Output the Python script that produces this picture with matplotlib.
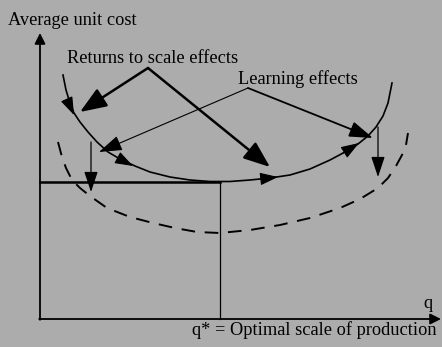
import numpy as np
import matplotlib
matplotlib.use("Agg")
import matplotlib.pyplot as plt

# diagram drawn in image-like coordinates (x right, y down)
cost_x = [63, 66, 70, 74, 80, 88, 97, 108, 120, 135, 150, 170, 190, 210, 230,
          250, 270, 290, 310, 330, 345, 358, 368, 376, 383, 388, 390, 392]
cost_y = [75, 90, 103, 113, 122, 132, 142, 152, 159, 166, 172, 177, 180, 181.5,
          181.5, 180, 178, 175, 169, 160, 152, 144, 136, 127, 116, 103, 93, 83]

learn_x = [58, 62, 66, 72, 80, 90, 107, 130, 153, 175, 197, 220, 250, 280,
           310, 340, 360, 378, 388, 396, 402, 406, 408]
learn_y = [142, 157, 168, 180, 188, 196, 208, 217, 223, 228, 232, 233, 230,
           225, 218, 208, 199, 188, 178, 166, 155, 145, 133]

q_star = 220
min_cost = 182
axis_origin = (40, 319)

# arrows along the curve: (tail, tip)
curve_arrows = [((69, 104), (74, 115)), ((118, 158), (133, 166)),
                ((260, 179), (278, 177)), ((343, 153), (359, 143))]
returns_from = (148, 68)
returns_to = [(80, 112), (270, 167)]
learning_from = (248, 88)
learning_to = [(99, 152), (373, 138)]
drops = [((91, 142), (91, 192)), ((378, 127), (378, 177))]

fig = plt.figure(figsize=(4.42, 3.47), dpi=100)
fig.patch.set_facecolor("#acacac")
ax = fig.add_axes([0, 0, 1, 1])
ax.set_facecolor("#acacac")
ax.set_xlim(0, 442)
ax.set_ylim(347, 0)
ax.axis("off")

font = dict(family="Liberation Serif", fontsize=13.2, color="black")

# axes with arrowheads
ox, oy = axis_origin
ax.annotate("", xy=(ox, 33), xytext=(ox, oy + 0.8),
            arrowprops=dict(arrowstyle="-|>", lw=1.3, color="black",
                            mutation_scale=16, shrinkA=0, shrinkB=0))
ax.annotate("", xy=(441, oy), xytext=(ox - 0.8, oy),
            arrowprops=dict(arrowstyle="-|>", lw=1.3, color="black",
                            mutation_scale=16, shrinkA=0, shrinkB=0))

# optimum lines
ax.plot([ox, q_star], [min_cost, min_cost], color="black", lw=1.8)
ax.plot([q_star, q_star], [min_cost, oy], color="black", lw=0.9)

# curves
ax.plot(cost_x, cost_y, color="black", lw=1.2)
ax.plot(learn_x, learn_y, color="black", lw=1.4, dashes=(7, 5))

for tail, tip in curve_arrows:
    ax.annotate("", xy=tip, xytext=tail,
                arrowprops=dict(arrowstyle="-|>,head_length=0.8,head_width=0.28",
                                lw=0.8, color="black",
                                mutation_scale=14, shrinkA=0, shrinkB=0))

for tip in returns_to:
    ax.annotate("", xy=tip, xytext=returns_from,
                arrowprops=dict(arrowstyle="-|>,head_length=0.9,head_width=0.35",
                                lw=1.8, color="black", mutation_scale=18,
                                shrinkA=0, shrinkB=0))
for tip, lw in zip(learning_to, [0.8, 1.3]):
    ax.annotate("", xy=tip, xytext=learning_from,
                arrowprops=dict(arrowstyle="-|>,head_length=0.9,head_width=0.3",
                                lw=lw, color="black", mutation_scale=16,
                                shrinkA=0, shrinkB=0))
for tail, tip in drops:
    ax.annotate("", xy=tip, xytext=tail,
                arrowprops=dict(arrowstyle="-|>,head_length=0.9,head_width=0.3",
                                lw=0.9, color="black", mutation_scale=14,
                                shrinkA=0, shrinkB=0))

ax.text(8, 20, "Average unit cost", ha="left", va="center", **font)
ax.text(67, 58, "Returns to scale effects", ha="left", va="center", **font)
ax.text(238, 79, "Learning effects", ha="left", va="center", **font)
ax.text(428, 303, "q", ha="center", va="center", **font)
ax.text(192, 330, "q* = Optimal scale of production", ha="left", va="center", **font)

fig.savefig("out.png", dpi=100, facecolor=fig.get_facecolor())
